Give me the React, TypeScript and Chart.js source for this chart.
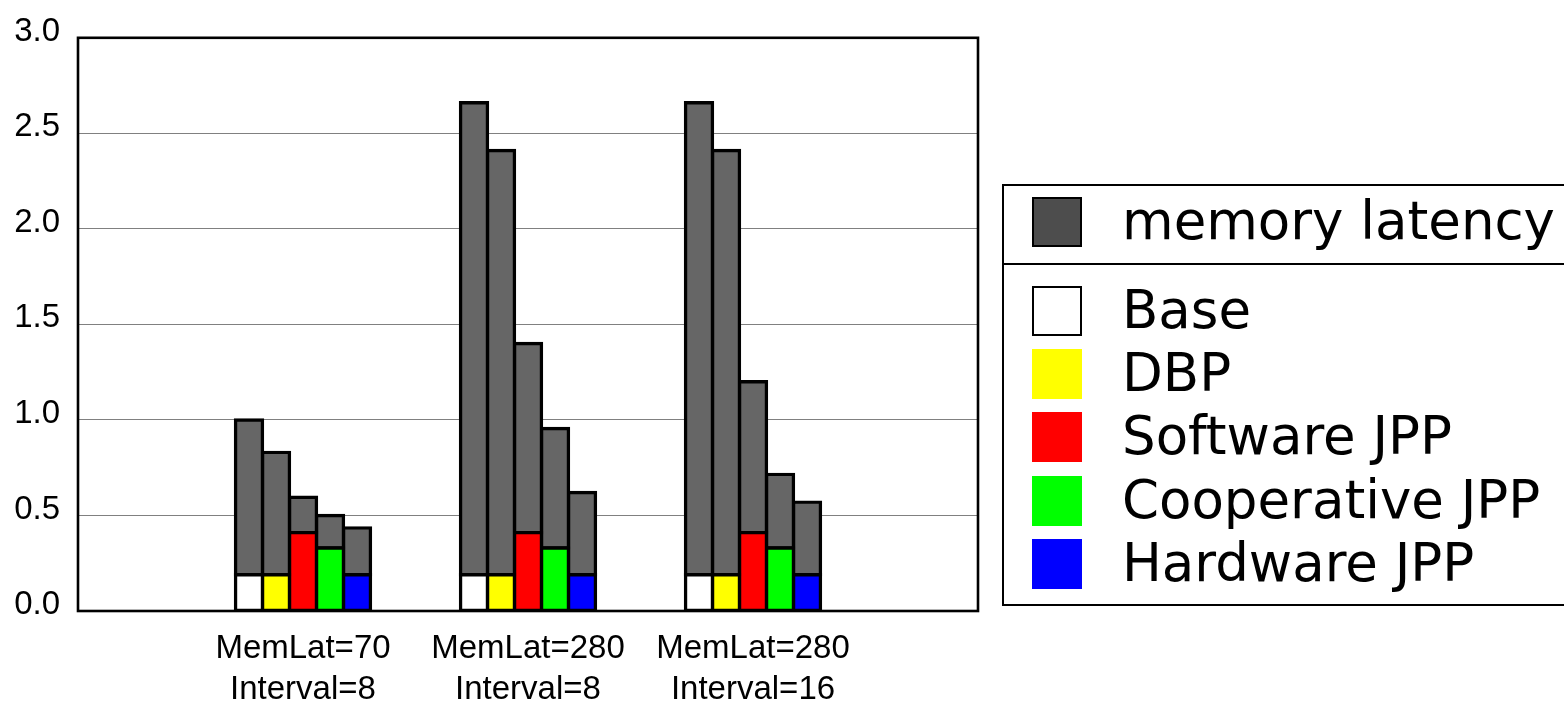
import React, { useEffect, useRef } from "react";
import { Chart, registerables } from "chart.js";

Chart.register(...registerables);

const categories: string[][] = [
  [""],
  ["MemLat=70", "Interval=8"],
  ["MemLat=280", "Interval=8"],
  ["MemLat=280", "Interval=16"],
  [""],
];
const seriesNames = ["Base", "DBP", "Software JPP", "Cooperative JPP", "Hardware JPP"];
const seriesColors = ["#ffffff", "#ffff00", "#ff0000", "#00ff00", "#0000ff"];
// compute portion (bottom segment) per series, per category
const baseValues: (number | null)[][] = [
  [null, 0.19, 0.19, 0.19, null],
  [null, 0.19, 0.19, 0.19, null],
  [null, 0.41, 0.41, 0.41, null],
  [null, 0.33, 0.33, 0.33, null],
  [null, 0.19, 0.19, 0.19, null],
];
// total bar heights per series, per category
const totalValues: (number | null)[][] = [
  [null, 1.0, 2.66, 2.66, null],
  [null, 0.83, 2.41, 2.41, null],
  [null, 0.595, 1.4, 1.2, null],
  [null, 0.5, 0.955, 0.715, null],
  [null, 0.435, 0.62, 0.57, null],
];
const memLabel = "memory latency";
const memColor = "#666666";
const yTicks = [0, 0.5, 1.0, 1.5, 2.0, 2.5, 3.0];

const boxPlugin = {
  id: "boxPlugin",
  afterDatasetsDraw(chart: any) {
    const { ctx, chartArea } = chart;
    ctx.save();
    ctx.strokeStyle = "#000";
    ctx.lineWidth = 2.6;
    ctx.strokeRect(chartArea.left, chartArea.top, chartArea.right - chartArea.left, chartArea.bottom - chartArea.top);
    ctx.restore();
  },
};

export default function App() {
  const ref = useRef<HTMLCanvasElement>(null);
  useEffect(() => {
    if (!ref.current) return;
    const common = {
      borderColor: "#000",
      borderWidth: 3.4,
      borderSkipped: false,
      inflateAmount: 1.7,
    };
    const datasets: any[] = [];
    seriesNames.forEach((name, i) => {
      datasets.push({
        label: name,
        data: baseValues[i],
        backgroundColor: seriesColors[i],
        stack: "s" + i,
        ...common,
      });
      datasets.push({
        label: memLabel,
        data: totalValues[i].map((t, k) => (t == null || baseValues[i][k] == null ? null : t - (baseValues[i][k] as number))),
        backgroundColor: memColor,
        stack: "s" + i,
        ...common,
      });
    });
    const chart = new Chart(ref.current, {
      type: "bar",
      data: { labels: categories, datasets },
      plugins: [boxPlugin],
      options: {
        animation: false,
        responsive: true,
        maintainAspectRatio: false,
        layout: { padding: { top: 36, right: 586, bottom: 0, left: 0 } },
        datasets: {
          bar: {
            categoryPercentage: 0.6,
            barPercentage: 1.0,
          },
        },
        plugins: { legend: { display: false }, tooltip: { enabled: false } },
        scales: {
          x: {
            offset: false,
            stacked: true,
            grid: { display: false, drawTicks: false },
            border: { display: false },
            ticks: {
              color: "#000",
              font: { family: "Liberation Sans", size: 33, lineHeight: 1.25 },
              padding: 17,
              maxRotation: 0,
              autoSkip: false,
            },
            afterFit: (s: any) => {
              s.height = 96;
            },
          },
          y: {
            stacked: true,
            min: 0,
            max: 3,
            afterBuildTicks: (s: any) => {
              s.ticks = yTicks.map((v) => ({ value: v }));
            },
            grid: { color: "#808080", lineWidth: 1, drawTicks: false },
            border: { display: false },
            ticks: {
              color: "#000",
              font: { family: "Liberation Sans", size: 33 },
              padding: 18,
              labelOffset: -6,
              callback: (v: any) => Number(v).toFixed(1),
            },
            afterFit: (s: any) => {
              s.width = 78;
            },
          },
        },
      },
    });
    return () => chart.destroy();
  }, []);

  const legendFont = "'DejaVu Sans', sans-serif";
  const rowCenters = [125, 188, 251, 315, 378];
  const swatch = (color: string, border: boolean, center: number, key: string) => (
    <div
      key={key}
      style={{
        position: "absolute",
        left: 28,
        top: center - 25,
        width: 50,
        height: 50,
        boxSizing: "border-box",
        background: color,
        border: border ? "2px solid #000" : "none",
      }}
    />
  );
  const text = (label: string, center: number, key: string) => (
    <div
      key={key}
      style={{
        position: "absolute",
        left: 118,
        top: center - 31,
        height: 60,
        lineHeight: "60px",
        fontFamily: legendFont,
        fontSize: 53,
        color: "#000",
        whiteSpace: "nowrap",
      }}
    >
      {label}
    </div>
  );

  return (
    <div style={{ position: "absolute", left: 0, top: 0, width: 1564, height: 707, overflow: "hidden", background: "#fff" }}>
      <div style={{ position: "absolute", left: 0, top: 0, width: 1564, height: 707 }}>
        <canvas ref={ref} />
      </div>
      <div
        style={{
          position: "absolute",
          left: 1002,
          top: 184,
          width: 620,
          height: 422,
          boxSizing: "border-box",
          border: "2px solid #000",
        }}
      >
        <div style={{ position: "absolute", left: 0, top: 0, width: "100%", height: 77, borderBottom: "2px solid #000" }} />
        {swatch("#4d4d4d", true, 36, "ms")}
        {text(memLabel, 36, "mt")}
        {seriesNames.map((n, i) => swatch(seriesColors[i], i === 0, rowCenters[i], "s" + i))}
        {seriesNames.map((n, i) => text(n, rowCenters[i], "t" + i))}
      </div>
    </div>
  );
}
